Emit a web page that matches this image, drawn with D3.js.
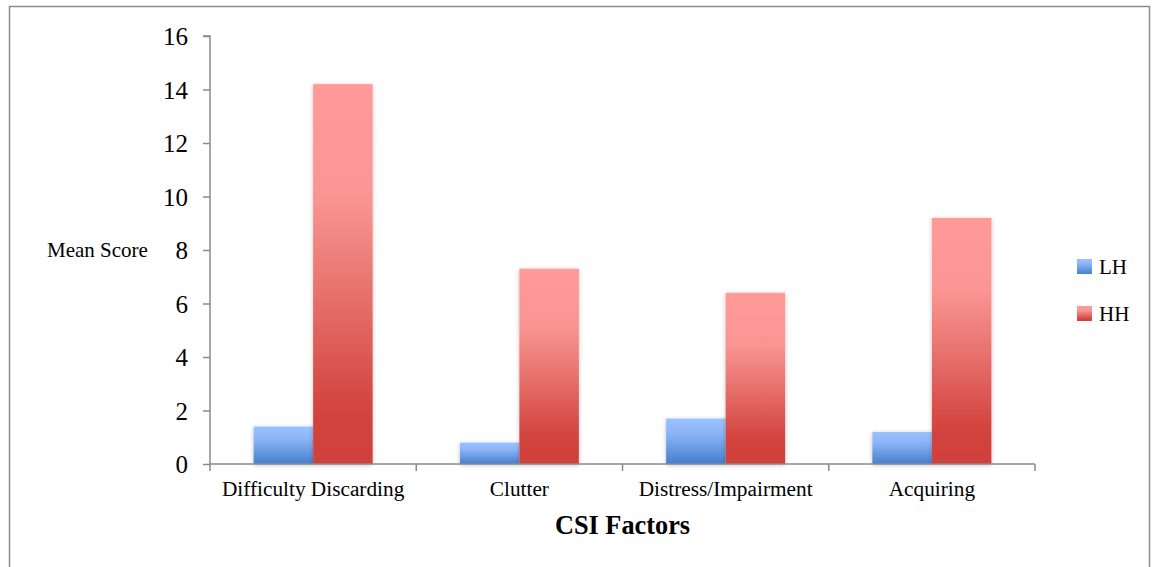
<!DOCTYPE html>
<html><head><meta charset="utf-8">
<script src="https://cdn.jsdelivr.net/npm/d3@7"></script>
<style>body{margin:0;background:#fff}svg{display:block}
svg text{font-family:"Liberation Serif","Times New Roman","DejaVu Serif",serif;}</style>
</head><body>
<script>
const categories = ["Difficulty Discarding","Clutter","Distress/Impairment","Acquiring"];
const seriesNames = ["LH","HH"];
const lhValues = [1.4, 0.8, 1.7, 1.2];
const hhValues = [14.2, 7.3, 6.4, 9.2];
const yTicks = [0,2,4,6,8,10,12,14,16];

(function(){
const W = 1157, H = 567;
const svg = d3.select("body").append("svg").attr("width", W).attr("height", H);
const defs = svg.append("defs");
const gb = defs.append("linearGradient").attr("id","gLH").attr("x1",0).attr("y1",0).attr("x2",0).attr("y2",1);
gb.append("stop").attr("offset","0").attr("stop-color","#9bc2ff");
gb.append("stop").attr("offset","0.35").attr("stop-color","#8ab3f5");
gb.append("stop").attr("offset","1").attr("stop-color","#447fce");
const gr = defs.append("linearGradient").attr("id","gHH").attr("x1",0).attr("y1",0).attr("x2",0).attr("y2",1);
gr.append("stop").attr("offset","0").attr("stop-color","#ff9a98");
gr.append("stop").attr("offset","0.3").attr("stop-color","#f99592");
gr.append("stop").attr("offset","0.6").attr("stop-color","#e46a66");
gr.append("stop").attr("offset","0.85").attr("stop-color","#d3443f");
gr.append("stop").attr("offset","1").attr("stop-color","#d0403c");
const sh = defs.append("filter").attr("id","sh").attr("x","-20%").attr("y","-20%").attr("width","140%").attr("height","140%");
sh.append("feDropShadow").attr("dx",0).attr("dy",1).attr("stdDeviation",2).attr("flood-color","#000").attr("flood-opacity",0.25);

// frame
svg.append("rect").attr("x",9.5).attr("y",6.5).attr("width",1140).attr("height",580)
  .attr("fill","none").attr("stroke","#8c8c8c").attr("stroke-width",1.5);

const pLeft = 210, pRight = 1035, pTop = 36, pBottom = 464;
const y = d3.scaleLinear().domain([0,16]).range([pBottom, pTop]);
const x = d3.scaleBand().domain(categories).range([pLeft, pRight]).paddingInner(0.423).paddingOuter(0.2115);
const xs = d3.scaleBand().domain(seriesNames).range([0, x.bandwidth()]);

const data = categories.map((c,i)=>({c, LH: lhValues[i], HH: hhValues[i]}));
const g = svg.append("g");
data.forEach(d=>{
  seriesNames.forEach(s=>{
    g.append("rect")
      .attr("x", x(d.c)+xs(s)).attr("width", xs.bandwidth())
      .attr("y", y(d[s])).attr("height", y(0)-y(d[s]))
      .attr("fill", s==="LH" ? "url(#gLH)" : "url(#gHH)")
      .attr("filter","url(#sh)");
  });
});

// y axis
const yAxis = d3.axisLeft(y).tickValues(yTicks).tickSize(7).tickPadding(15).tickFormat(d3.format("d"));
const ya = svg.append("g").attr("transform",`translate(${pLeft},0)`).call(yAxis);
ya.attr("font-family",null).attr("font-size",null);
ya.selectAll("path, line").attr("stroke","#8a8a8a").attr("stroke-width",1.5);
ya.select(".domain").attr("d",`M-7,${pTop}H0V${pBottom}`);
ya.selectAll("text").style("font-size","25px").attr("fill","#000").attr("dy","0.34em");

// x axis
const xTickScale = d3.scaleLinear().domain([0,categories.length]).range([pLeft,pRight]);
const xa = svg.append("g").attr("transform",`translate(0,${pBottom})`);
xa.append("line").attr("x1",pLeft).attr("x2",pRight).attr("y1",0).attr("y2",0).attr("stroke","#8a8a8a").attr("stroke-width",1.5);
d3.range(categories.length+1).forEach(i=>{
  xa.append("line").attr("x1",xTickScale(i)).attr("x2",xTickScale(i)).attr("y1",0).attr("y2",7).attr("stroke","#8a8a8a").attr("stroke-width",1.5);
});
categories.forEach(c=>{
  xa.append("text").attr("x", x(c)+x.bandwidth()/2).attr("y",32).attr("text-anchor","middle")
    .style("font-size","21.3px").attr("fill","#000").text(c);
});

svg.append("text").attr("x",622.5).attr("y",534).attr("text-anchor","middle")
  .attr("font-weight","bold").style("font-size","26.3px").text("CSI Factors");
svg.append("text").attr("x",47).attr("y",257)
  .style("font-size","21px").text("Mean Score");

// legend
const legend = svg.append("g");
seriesNames.forEach((s,i)=>{
  const ly = 259 + i*47;
  legend.append("rect").attr("x",1077).attr("y",ly).attr("width",15).attr("height",15)
    .attr("fill", s==="LH" ? "url(#gLH)" : "url(#gHH)");
  legend.append("text").attr("x",1099).attr("y",ly+15)
    .style("font-size","21px").text(s);
});
})();
</script>
</body></html>
